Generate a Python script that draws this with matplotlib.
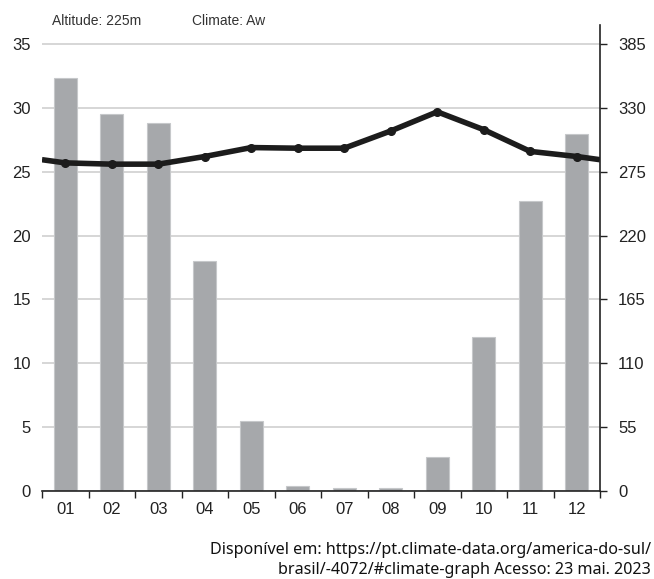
import matplotlib
matplotlib.use("Agg")
import matplotlib.pyplot as plt
import numpy as np

months = ["01", "02", "03", "04", "05", "06", "07", "08", "09", "10", "11", "12"]
# precipitation (mm), drawn on the right axis scale
precip_mm = [356, 325, 317, 198, 60, 4, 2.5, 2.5, 29, 133, 250, 308]
# mean temperature (°C)
temp_c = [25.7, 25.6, 25.6, 26.2, 26.9, 26.85, 26.85, 28.2, 29.7, 28.3, 26.6, 26.2]
left_ticks = [0, 5, 10, 15, 20, 25, 30, 35]
right_ticks = [0, 55, 110, 165, 220, 275, 330, 385]
ratio = 11.0  # mm per °C

plt.rcParams["font.family"] = ["Liberation Sans", "DejaVu Sans"]

W, H = 654, 579
fig = plt.figure(figsize=(W / 100, H / 100), dpi=100)
ax = fig.add_axes([42 / W, 88 / H, (600 - 42) / W, (491 - 25) / H])

x = np.arange(1, 13)
ax.bar(x, np.array(precip_mm) / ratio, width=0.5, color="#a6a8ab",
       edgecolor="#c6c8ca", linewidth=0.8, zorder=2)

# temperature line, wrapped to the edges with the Dec/Jan mean
edge = (temp_c[0] + temp_c[-1]) / 2
lx = np.concatenate([[0.5], x, [12.5]])
ly = np.concatenate([[edge], temp_c, [edge]])
ax.plot(lx, ly, color="#1c1c1c", linewidth=4.0, solid_capstyle="butt", zorder=3)
ax.plot(x, temp_c, "o", color="#1c1c1c", markersize=5.5, zorder=4)

ax.set_xlim(0.5, 12.5)
ax.set_ylim(0, 36.5)
ax.set_yticks(left_ticks)
ax.set_xticks(x)
ax.set_xticklabels(months)
ax.set_xticks(np.arange(0.5, 13, 1), minor=True)
ax.tick_params(axis="x", which="major", length=0, pad=8, labelsize=12, colors="#222222")
ax.tick_params(axis="x", which="minor", length=5, width=1, colors="#222222")
ax.tick_params(axis="y", length=0, pad=8, labelsize=12, colors="#222222")
ax.yaxis.grid(True, color="#cfcfcf", linewidth=1.2, zorder=0)
ax.set_axisbelow(True)
for s in ["top", "left", "right"]:
    ax.spines[s].set_visible(False)
ax.spines["bottom"].set_color("#222222")
ax.spines["bottom"].set_linewidth(1.2)

ax2 = ax.twinx()
ax2.set_ylim(0, 36.5 * ratio)
ax2.set_yticks(right_ticks)
ax2.tick_params(axis="y", length=5, width=1, pad=8, labelsize=12, colors="#222222")
for s in ["top", "left", "bottom"]:
    ax2.spines[s].set_visible(False)
ax2.spines["right"].set_color("#222222")
ax2.spines["right"].set_linewidth(1.2)

fig.text(52 / W, 1 - 21 / H, "Altitude: 225m", fontsize=10, color="#333333", va="center")
fig.text(192 / W, 1 - 21 / H, "Climate: Aw", fontsize=10, color="#333333", va="center")

foot = ["Noto Sans", "DejaVu Sans"]
fig.text(651 / W, 1 - 550 / H, "Disponível em: https://pt.climate-data.org/america-do-sul/",
         fontsize=11.6, ha="right", va="center", family=foot, color="#111111")
fig.text(651 / W, 1 - 570 / H, "brasil/-4072/#climate-graph Acesso: 23 mai. 2023",
         fontsize=11.6, ha="right", va="center", family=foot, color="#111111")

fig.savefig("out.png", dpi=100)
